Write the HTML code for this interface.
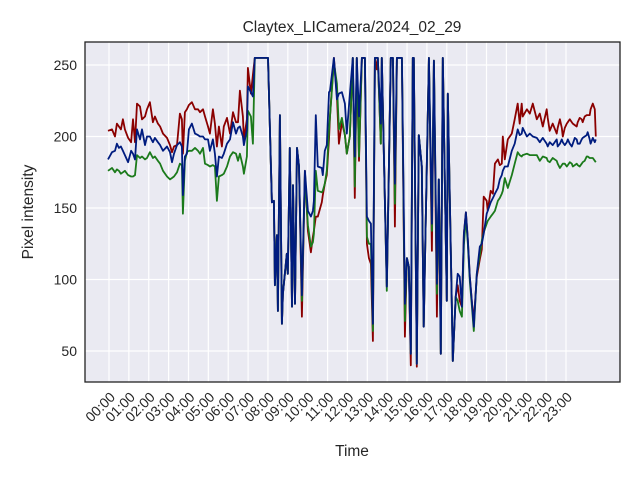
<!DOCTYPE html>
<html><head><meta charset="utf-8"><style>
html,body{margin:0;padding:0;background:#fff;}
svg text{font-family:"Liberation Sans",sans-serif;fill:#262626;}
</style></head><body>
<svg id="chart" width="640" height="480" xmlns="http://www.w3.org/2000/svg">
<rect x="0" y="0" width="640" height="480" fill="#fff"/>
<rect x="85" y="42" width="535" height="340" fill="#eaeaf2"/>
<g id="grid"></g>
<g id="series"></g>
<rect x="85" y="42" width="535" height="340" fill="none" stroke="#222" stroke-width="1.3"/>
<g id="yticks"></g>
<g id="xticks"></g>
<text x="352" y="32" font-size="15.5" text-anchor="middle">Claytex_LICamera/2024_02_29</text>
<text x="352" y="456" font-size="15.5" text-anchor="middle">Time</text>
<text x="0" y="0" font-size="15.5" text-anchor="middle" transform="translate(33,212) rotate(-90)">Pixel intensity</text>
</svg>
<script>
const times=[-0.05,0.15,0.30,0.40,0.50,0.60,0.70,0.80,0.96,1.11,1.21,1.31,1.41,1.56,1.66,1.81,1.91,2.06,2.21,2.31,2.46,2.57,2.72,2.92,3.07,3.17,3.27,3.42,3.57,3.67,3.72,3.82,3.92,4.02,4.17,4.33,4.48,4.58,4.73,4.83,4.98,5.08,5.23,5.33,5.43,5.53,5.68,5.78,5.94,6.09,6.24,6.39,6.49,6.59,6.74,6.79,6.94,6.99,7.14,7.24,7.34,8.00,
8.20,8.30,8.35,8.45,8.50,8.60,8.70,8.75,8.95,9.00,9.10,9.21,9.26,9.36,9.46,9.56,9.71,9.86,10.01,10.16,10.26,10.31,10.41,10.51,10.71,10.76,10.86,10.96,11.07,11.12,11.32,11.47,11.57,11.72,11.87,11.97,12.12,12.27,12.37,12.47,12.58,12.73,12.88,12.98,13.08,13.18,13.28,13.38,13.48,13.53,13.68,13.73,13.83,13.98,14.18,14.29,14.39,14.49,14.74,14.89,14.99,15.09,15.19,15.29,15.34,15.49,15.59,15.74,15.84,16.10,16.25,16.35,16.50,16.60,16.70,16.80,17.00,17.05,17.25,17.30,17.45,17.55,17.65,17.76,17.86,17.96,18.06,18.16,18.26,18.36,18.51,18.66,18.76,18.86,19.01,19.06,19.21,19.32,19.42,19.57,19.67,19.77,19.82,19.92,20.07,20.27,20.42,20.57,20.67,20.77,20.82,21.03,21.18,21.33,21.53,21.68,21.83,22.03,22.08,22.18,22.33,22.53,22.58,22.69,22.79,22.84,22.94,23.04,23.09,23.19,23.29,23.34,23.44,23.54,23.59,23.69,23.79,23.84,23.94,24.04,24.09,24.19,24.24,24.35,24.45,24.50];
const redValues=[204,205,200,209,207,205,212,205,199,196,212,196,223,221,212,214,219,224,210,214,209,207,202,199,194,189,193,194,216,212,188,217,219,222,224,219,219,217,219,214,207,202,219,209,193,207,193,207,213,202,217,210,210,232,214,198,212,248,230,243,255,255,
154,155,96,131,78,215,69,90,118,104,192,81,166,83,192,179,74,176,134,119,130,134,144,144,154,159,167,173,198,214,255,229,195,210,201,188,200,255,157,255,183,255,255,125,115,111,57,255,247,255,195,255,190,95,255,255,137,255,255,60,115,109,40,255,255,39,201,179,67,255,120,253,74,170,48,255,85,230,83,43,88,96,85,81,132,147,127,102,85,71,102,114,121,158,155,148,162,160,181,184,180,181,200,184,198,202,212,223,209,223,214,219,216,223,212,216,207,219,213,204,209,202,206,212,206,200,206,209,210,212,210,209,208,207,210,213,212,210,214,215,215,215,219,223,219,200];
const greenValues=[176,178,175,177,176,174,175,176,173,172,172,173,187,185,186,184,185,189,185,186,183,181,176,172,170,171,172,175,181,180,146,183,189,190,190,192,190,188,192,181,180,179,180,179,155,172,173,174,179,186,189,188,183,188,179,174,186,218,214,195,255,255,
154,155,96,131,78,215,69,90,118,104,192,81,166,83,192,179,85,173,138,123,126,132,176,162,161,162,167,176,205,214,252,237,205,213,201,188,200,255,165,255,186,255,255,130,125,125,64,255,255,255,195,255,190,92,255,255,153,255,255,71,115,109,48,255,255,41,201,179,67,255,134,253,90,170,48,255,85,230,83,43,88,85,78,74,124,144,124,99,82,64,104,117,127,133,139,141,144,146,148,155,157,160,162,171,164,173,181,189,187,186,187,188,187,187,187,183,186,185,183,182,185,183,181,178,180,181,181,179,180,182,181,179,180,181,180,179,181,182,183,186,186,185,185,185,183,182];
const blueValues=[184,189,190,195,192,193,190,187,182,190,188,184,205,198,205,194,200,200,196,199,196,194,190,193,189,182,188,194,196,193,159,186,188,205,209,202,201,200,200,198,198,190,198,188,172,186,185,188,195,198,210,202,206,207,200,194,205,235,231,228,255,255,
154,155,96,131,78,215,69,90,118,104,192,81,166,83,192,179,89,176,148,144,148,155,215,179,178,173,190,194,231,232,255,226,230,231,223,202,229,255,186,255,214,255,255,144,141,139,69,255,255,255,209,255,190,95,255,255,167,255,255,83,115,109,48,255,255,41,201,179,67,255,139,253,97,170,48,255,85,230,83,43,88,104,102,81,132,147,127,102,85,67,104,123,125,132,146,148,154,157,160,164,170,173,176,179,179,190,195,205,201,202,206,200,202,200,199,196,199,195,193,196,194,198,193,195,198,196,194,196,198,195,193,195,199,198,195,195,198,199,200,201,203,198,195,199,196,198];
const yTickValues=[50,100,150,200,250];
const xTickHours=[0,1,2,3,4,5,6,7,8,9,10,11,12,13,14,15,16,17,18,19,20,21,22,23];
const xTickLabels=["00:00","01:00","02:00","03:00","04:00","05:00","06:00","07:00","08:00","09:00","10:00","11:00","12:00","13:00","14:00","15:00","16:00","17:00","18:00","19:00","20:00","21:00","22:00","23:00"];

const NS="http://www.w3.org/2000/svg";
function xScale(h){return 109+h*19.87;}
function yScale(v){return 351-(v-50)*1.43;}
const grid=document.getElementById('grid');
const yt=document.getElementById('yticks');
const xt=document.getElementById('xticks');
yTickValues.forEach(v=>{
  const y=yScale(v);
  const l=document.createElementNS(NS,'line');
  l.setAttribute('x1',85);l.setAttribute('x2',620);l.setAttribute('y1',y);l.setAttribute('y2',y);
  l.setAttribute('stroke','#fff');l.setAttribute('stroke-width','1.2');
  
  
  grid.appendChild(l);
  const t=document.createElementNS(NS,'text');
  t.setAttribute('x',77);t.setAttribute('y',y+5);t.setAttribute('text-anchor','end');t.setAttribute('font-size','14');
  t.textContent=v;
  
  
  yt.appendChild(t);
});
xTickHours.forEach((h,i)=>{
  const x=xScale(h);
  const l=document.createElementNS(NS,'line');
  l.setAttribute('x1',x);l.setAttribute('x2',x);l.setAttribute('y1',42);l.setAttribute('y2',382);
  l.setAttribute('stroke','#fff');l.setAttribute('stroke-width','1.2');
  
  
  grid.appendChild(l);
  const t=document.createElementNS(NS,'text');
  t.setAttribute('x',0);t.setAttribute('y',0);t.setAttribute('text-anchor','end');t.setAttribute('font-size','14');
  t.setAttribute('transform','translate('+(x+7)+',398) rotate(-45)');
  t.textContent=xTickLabels[i];
  
  
  xt.appendChild(t);
});
const sg=document.getElementById('series');
[[redValues,'#8b0000','red-series-line'],[greenValues,'#1b7a1b','green-series-line'],[blueValues,'#001c7f','blue-series-line']].forEach(([vals,c,name])=>{
  let d='';
  vals.forEach((v,i)=>{d+=(i?'L':'M')+xScale(times[i]).toFixed(1)+','+yScale(v).toFixed(1);});
  const p=document.createElementNS(NS,'path');
  p.setAttribute('d',d);p.setAttribute('fill','none');p.setAttribute('stroke',c);p.setAttribute('stroke-width','1.8');p.setAttribute('stroke-linejoin','round');
  
  
  sg.appendChild(p);
});
</script>
</body></html>
